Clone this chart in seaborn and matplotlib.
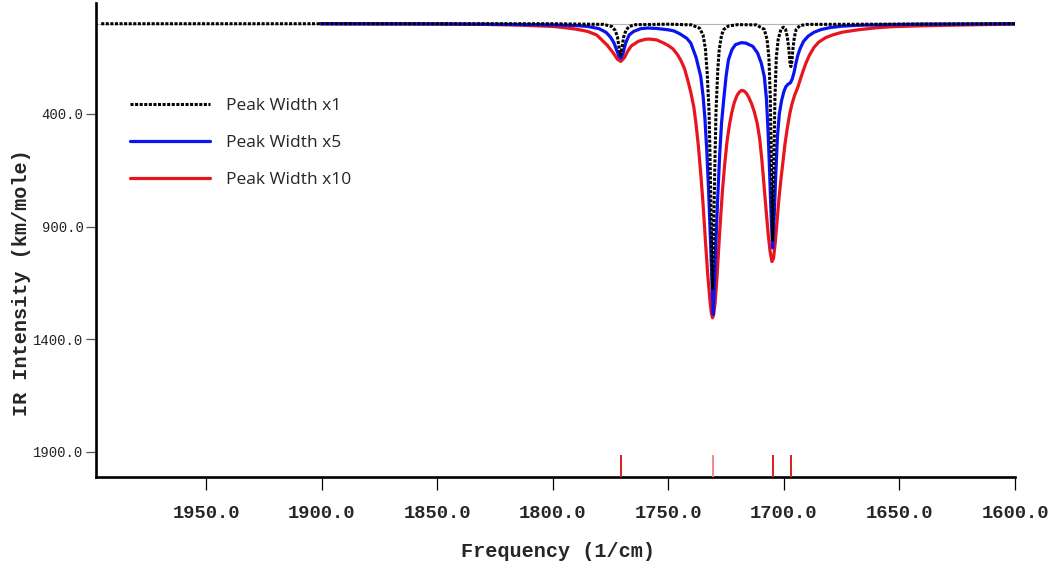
import numpy as np
import pandas as pd
import matplotlib
matplotlib.use("Agg")
import matplotlib.pyplot as plt
import seaborn as sns
from matplotlib.ticker import FormatStrFormatter

# Peak Width x1 (black dotted)
freq_x1 = [1996, 1800, 1778, 1774.5, 1773, 1772, 1771.3, 1770.7, 1770.1, 1769.4, 1768.4,
           1767, 1764, 1750, 1740, 1736.5, 1735, 1734, 1733.2, 1732.4, 1731.8, 1731.3,
           1730.9, 1730.5, 1730.0, 1729.4, 1728.6, 1728.0, 1727, 1726, 1724, 1720, 1712,
           1708.5, 1707.3, 1706.5, 1705.9, 1705.4, 1704.9, 1704.4, 1703.9, 1703.3, 1702.5,
           1701.3, 1700.2, 1699.3, 1698.5, 1697.9, 1697.4, 1697.0, 1696.6, 1696.1, 1695.5,
           1694.7, 1693, 1690, 1600]
int_x1 = [0, 0, 3, 12, 30, 60, 110, 140, 110, 60, 30,
          12, 4, 2, 5, 20, 50, 110, 220, 390, 680, 1000,
          1175, 1000, 680, 390, 200, 115, 50, 25, 10, 4, 5,
          25, 70, 150, 330, 650, 960, 650, 330, 150, 70,
          25, 15, 25, 60, 110, 170, 190, 170, 110, 60,
          25, 8, 3, 0]

# Peak Width x5 (blue)
freq_x5 = [1900.6, 1850, 1820, 1800, 1790, 1785, 1780, 1777, 1775, 1773.5, 1772.3, 1771.2,
           1770.5, 1769.6, 1768.5, 1767, 1765, 1762, 1759, 1755, 1750, 1747.6, 1745, 1742,
           1740.3, 1738, 1736, 1735, 1734.2, 1733.4, 1732.6, 1731.8, 1731.2, 1730.6, 1730.0,
           1729.4, 1728.6, 1727.8, 1727, 1726, 1725, 1724, 1722.5, 1721, 1718.5, 1716.5,
           1713.5, 1711.4, 1709.8, 1708.5, 1707.6, 1706.9, 1706.4, 1705.9, 1705.4, 1704.9,
           1704.2, 1703.5, 1702.8, 1702.0, 1701.0, 1700.0, 1699.2, 1698.2, 1697.2, 1696.4,
           1695.6, 1694.8, 1694.0, 1693.0, 1691.5, 1689.5, 1687, 1684, 1680, 1675, 1668,
           1655, 1640, 1620, 1600]
int_x5 = [0, 1, 3, 5, 8, 12, 22, 38, 60, 86, 120, 148,
          152, 130, 86, 50, 34, 22, 19, 21, 27, 32, 45, 65,
          86, 150, 234, 320, 420, 560, 740, 960, 1130, 1290, 1130,
          960, 760, 580, 440, 330, 230, 160, 115, 93, 84, 86,
          100, 130, 175, 234, 330, 470, 600, 750, 890, 995,
          850, 660, 500, 400, 340, 300, 280, 268, 262, 245,
          215, 175, 140, 110, 78, 55, 38, 26, 17, 11, 7,
          4, 2, 1, 0]

# Peak Width x10 (red)
freq_x10 = [1900.6, 1860, 1830, 1815, 1800, 1796, 1790, 1785, 1781, 1779, 1776.5, 1774,
            1772, 1770.6, 1769, 1767.5, 1766, 1763, 1760, 1758, 1755, 1752, 1750, 1748,
            1746, 1744.5, 1743, 1741.5, 1740.3, 1739, 1738.1, 1737, 1736, 1735, 1734,
            1733, 1732, 1731.4, 1730.9, 1730.4, 1729.8, 1729.0, 1728.2, 1727.4, 1726.6,
            1725.6, 1724.6, 1723.6, 1722.6, 1721.5, 1720.3, 1719.2, 1718.3, 1717.3, 1716.3,
            1715.2, 1714, 1712.8, 1711.6, 1710.5, 1709.5, 1708.6, 1707.7, 1706.8, 1706,
            1705.2, 1704.5, 1703.8, 1703.0, 1702.2, 1701.3, 1700.4, 1699.5, 1698.5, 1697.5,
            1696.5, 1695.3, 1694.1, 1693, 1691.8, 1690.5, 1689, 1687, 1685, 1682, 1679,
            1675, 1668, 1660, 1653, 1640, 1630, 1615, 1600]
int_x10 = [0, 1, 3, 6, 12, 16, 24, 34, 50, 70, 95, 128,
           158, 167, 150, 120, 98, 78, 69, 68, 72, 86, 97, 112,
           138, 165, 200, 255, 305, 370, 440, 545, 665, 800, 960,
           1110, 1230, 1285, 1305, 1290, 1240, 1130, 990, 860, 740,
           620, 520, 450, 395, 350, 318, 302, 296, 298, 308,
           327, 355, 392, 440, 510, 610, 720, 830, 935, 1010,
           1055, 1040, 975, 880, 780, 690, 610, 530, 460, 400,
           355, 315, 285, 250, 212, 175, 140, 105, 82, 62, 50,
           38, 27, 18, 13, 9, 7, 4, 2]

# stick spectrum positions
stick_freq = [1770.3, 1730.6, 1704.6, 1697.0]
stick_colors = ["#d81e1e", "#f08a8a", "#d81e1e", "#d81e1e"]

x_ticks = [1950, 1900, 1850, 1800, 1750, 1700, 1650, 1600]
y_ticks = [400, 900, 1400, 1900]

sns.set_style("ticks")
plt.rcParams["font.family"] = ["Liberation Mono", "DejaVu Sans Mono"]

fig = plt.figure(figsize=(10.5, 5.76), dpi=100)
ax = fig.add_axes([0.0914, 0.1719, 0.8753, 0.8229])

ax.axhline(0, color="#b4b4b4", lw=0.8, zorder=1)

sns.lineplot(x=freq_x1, y=int_x1, ax=ax, color="black", lw=2.2,
             linestyle=(0, (1, 0.5)), label="Peak Width x1", zorder=4)
sns.lineplot(x=freq_x5, y=int_x5, ax=ax, color="#0a14f0", lw=2.3,
             label="Peak Width x5", zorder=3)
sns.lineplot(x=freq_x10, y=int_x10, ax=ax, color="#e8141e", lw=2.3,
             label="Peak Width x10", zorder=2)

ax.set_xlim(1997.7, 1600)
ax.set_ylim(2011, -92)
ax.vlines(stick_freq, 2011, 1915, colors=stick_colors, lw=1.4, zorder=5)

ax.set_xticks(x_ticks)
ax.set_yticks(y_ticks)
ax.xaxis.set_major_formatter(FormatStrFormatter("%.1f"))
ax.yaxis.set_major_formatter(FormatStrFormatter("%.1f"))

sns.despine(ax=ax)
for side in ["left", "bottom"]:
    ax.spines[side].set_linewidth(1.9)
    ax.spines[side].set_color("black")

ax.tick_params(axis="x", length=9.5, width=0.9, color="black", pad=10.5, labelsize=13.5)
ax.tick_params(axis="y", length=7, width=0.9, color="#555555", pad=2, labelsize=10,
               labelcolor="#222222")
for lbl in ax.get_xticklabels():
    lbl.set_fontweight("bold")

ax.set_xlabel("Frequency (1/cm)", fontsize=14.5, fontweight="bold")
ax.set_ylabel("IR Intensity (km/mole)", fontsize=14.5, fontweight="bold")
ax.xaxis.set_label_coords(0.503, -0.138)
ax.yaxis.set_label_coords(-0.0707, 0.409)

leg = ax.legend(loc="upper left", bbox_to_anchor=(0.0275, 0.818), frameon=False,
                borderpad=0, handlelength=4.6, handletextpad=0.95, labelspacing=1.2,
                prop={"family": "Open Sans", "size": 12.5})

fig.savefig("out.png", dpi=100)
